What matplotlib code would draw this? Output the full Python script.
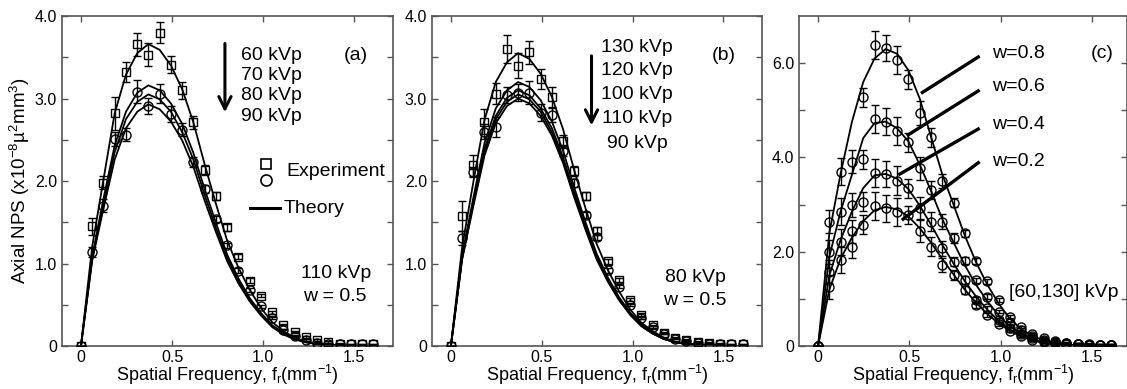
import numpy as np
import matplotlib
matplotlib.use("Agg")
import matplotlib.pyplot as plt
from matplotlib.ticker import FixedLocator, MultipleLocator

plt.rcParams['font.family'] = ['Liberation Sans', 'DejaVu Sans']
plt.rcParams['mathtext.default'] = 'regular'

# spatial frequency grid (mm^-1)
freq = [0.0, 0.062, 0.123, 0.185, 0.247, 0.309, 0.370, 0.432, 0.494, 0.556,
        0.617, 0.679, 0.741, 0.802, 0.864, 0.926, 0.988, 1.049, 1.111, 1.173,
        1.235, 1.296, 1.358, 1.420, 1.481, 1.543, 1.605]

# ---- panel (a): w = 0.5, various kVp ----
a_theory_60 = [0, 1.21, 2.01, 2.82, 3.29, 3.55, 3.66, 3.59, 3.40, 3.11, 2.71, 2.20, 1.72, 1.28,
               0.95, 0.68, 0.46, 0.29, 0.18, 0.10, 0.05, 0.03, 0.015, 0.007, 0.004, 0, 0]
a_theory_70 = [0, 1.08, 1.78, 2.43, 2.84, 3.07, 3.16, 3.10, 2.94, 2.69, 2.34, 1.90, 1.49, 1.11,
               0.82, 0.58, 0.40, 0.25, 0.16, 0.09, 0.05, 0.025, 0.013, 0.006, 0.003, 0, 0]
a_theory_80 = [0, 1.06, 1.72, 2.35, 2.75, 2.96, 3.05, 2.99, 2.84, 2.59, 2.26, 1.83, 1.43, 1.07,
               0.79, 0.56, 0.38, 0.24, 0.15, 0.085, 0.046, 0.024, 0.012, 0.006, 0.003, 0, 0]
a_theory_90 = [0, 1.04, 1.66, 2.26, 2.64, 2.84, 2.93, 2.87, 2.72, 2.49, 2.17, 1.76, 1.38, 1.03,
               0.76, 0.54, 0.37, 0.23, 0.14, 0.08, 0.044, 0.023, 0.012, 0.006, 0.003, 0, 0]
a_exp_sq = [0, 1.45, 1.98, 2.82, 3.32, 3.66, 3.53, 3.80, 3.41, 3.10, 2.71, 2.13, 1.82, 1.44,
            1.08, 0.79, 0.61, 0.41, 0.26, 0.17, 0.11, 0.07, 0.05, 0.03, 0.02, 0.02, 0.02]
a_err_sq = [0, 0.10, 0.08, 0.20, 0.12, 0.14, 0.14, 0.13, 0.10, 0.10, 0.08, 0.06, 0.05, 0.04,
            0.03, 0.03, 0.02, 0.02, 0.01, 0.01, 0.01, 0.01, 0.01, 0.01, 0.01, 0.01, 0.01]
a_exp_ci = [0, 1.14, 1.70, 2.51, 2.56, 3.08, 2.91, 3.06, 2.81, 2.62, 2.23, 1.90, 1.54, 1.22,
            0.91, 0.68, 0.48, 0.34, 0.20, 0.12, 0.07, 0.04, 0.03, 0.02, 0.02, 0.02, 0.02]
a_err_ci = [0, 0.06, 0.08, 0.08, 0.08, 0.14, 0.10, 0.12, 0.10, 0.08, 0.06, 0.05, 0.04, 0.03,
            0.03, 0.02, 0.02, 0.01, 0.01, 0.01, 0.01, 0.01, 0.01, 0.01, 0.01, 0.01, 0.01]
a_labels = ['60 kVp', '70 kVp', '80 kVp', '90 kVp']

# ---- panel (b): w = 0.5, various kVp ----
b_theory_130 = [0, 1.20, 1.98, 2.74, 3.20, 3.44, 3.55, 3.48, 3.30, 3.02, 2.63, 2.13, 1.67, 1.24,
                0.92, 0.66, 0.44, 0.28, 0.18, 0.10, 0.05, 0.028, 0.014, 0.007, 0.004, 0, 0]
b_theory_120 = [0, 1.10, 1.79, 2.46, 2.88, 3.10, 3.20, 3.14, 2.98, 2.72, 2.37, 1.92, 1.50, 1.12,
                0.83, 0.59, 0.40, 0.26, 0.16, 0.09, 0.048, 0.026, 0.013, 0.006, 0.003, 0, 0]
b_theory_100 = [0, 1.07, 1.74, 2.39, 2.79, 3.01, 3.10, 3.04, 2.88, 2.64, 2.29, 1.86, 1.46, 1.09,
                0.81, 0.57, 0.39, 0.25, 0.155, 0.087, 0.047, 0.025, 0.012, 0.006, 0.003, 0, 0]
b_theory_110 = [0, 1.06, 1.72, 2.35, 2.75, 2.96, 3.05, 2.99, 2.84, 2.59, 2.26, 1.83, 1.43, 1.07,
                0.79, 0.56, 0.38, 0.24, 0.15, 0.085, 0.046, 0.024, 0.012, 0.006, 0.003, 0, 0]
b_theory_90 = [0, 1.05, 1.69, 2.31, 2.70, 2.91, 3.00, 2.94, 2.79, 2.55, 2.22, 1.80, 1.41, 1.05,
               0.78, 0.555, 0.375, 0.24, 0.15, 0.084, 0.045, 0.024, 0.012, 0.006, 0.003, 0, 0]
b_exp_sq = [0, 1.58, 2.19, 2.72, 3.06, 3.60, 3.40, 3.56, 3.24, 3.02, 2.48, 2.12, 1.82, 1.40,
            1.03, 0.80, 0.56, 0.38, 0.25, 0.16, 0.10, 0.07, 0.05, 0.04, 0.03, 0.02, 0.02]
b_err_sq = [0, 0.18, 0.13, 0.15, 0.13, 0.17, 0.15, 0.14, 0.12, 0.12, 0.08, 0.06, 0.05, 0.04,
            0.03, 0.03, 0.02, 0.02, 0.01, 0.01, 0.01, 0.01, 0.01, 0.01, 0.01, 0.01, 0.01]
b_exp_ci = [0, 1.31, 2.11, 2.60, 2.65, 3.04, 3.07, 3.07, 2.83, 2.80, 2.36, 1.98, 1.59, 1.32,
            0.92, 0.72, 0.50, 0.34, 0.23, 0.15, 0.09, 0.06, 0.04, 0.03, 0.02, 0.02, 0.02]
b_err_ci = [0, 0.08, 0.06, 0.09, 0.12, 0.10, 0.10, 0.14, 0.10, 0.08, 0.06, 0.05, 0.04, 0.03,
            0.03, 0.02, 0.02, 0.01, 0.01, 0.01, 0.01, 0.01, 0.01, 0.01, 0.01, 0.01, 0.01]
b_labels = ['130 kVp', '120 kVp', '100 kVp', '110 kVp', '90 kVp']

# ---- panel (c): [60,130] kVp, various w ----
c_w = ['w=0.8', 'w=0.6', 'w=0.4', 'w=0.2']
c_theory_08 = [0, 2.40, 3.65, 4.75, 5.60, 6.10, 6.30, 6.20, 5.85, 5.25, 4.45, 3.65, 3.00, 2.35,
               1.78, 1.30, 0.90, 0.58, 0.36, 0.21, 0.12, 0.06, 0.03, 0.015, 0.007, 0, 0]
c_theory_06 = [0, 1.90, 2.85, 3.63, 4.41, 4.73, 4.76, 4.62, 4.34, 3.85, 3.30, 2.70, 2.20, 1.72,
               1.30, 0.95, 0.65, 0.42, 0.26, 0.15, 0.08, 0.04, 0.02, 0.01, 0.005, 0, 0]
c_theory_04 = [0, 1.50, 2.25, 2.85, 3.35, 3.62, 3.65, 3.55, 3.33, 2.98, 2.58, 2.15, 1.75, 1.38,
               1.05, 0.77, 0.53, 0.35, 0.22, 0.13, 0.07, 0.035, 0.017, 0.008, 0.004, 0, 0]
c_theory_02 = [0, 1.20, 1.85, 2.30, 2.65, 2.88, 2.95, 2.90, 2.75, 2.50, 2.20, 1.85, 1.52, 1.20,
               0.92, 0.68, 0.48, 0.32, 0.20, 0.12, 0.065, 0.033, 0.016, 0.008, 0.004, 0, 0]
c_exp_08 = [0, 2.64, 3.70, 3.91, 5.28, 6.39, 6.32, 6.06, 5.66, 4.94, 4.43, 3.50, 3.04, 2.39,
            1.80, 1.37, 0.98, 0.62, 0.41, 0.25, 0.16, 0.10, 0.07, 0.05, 0.04, 0.03, 0.03]
c_exp_06 = [0, 2.00, 2.85, 2.99, 3.96, 4.81, 4.76, 4.56, 4.32, 3.77, 3.31, 2.64, 2.29, 1.81,
            1.39, 1.05, 0.73, 0.48, 0.33, 0.21, 0.13, 0.08, 0.06, 0.04, 0.03, 0.03, 0.03]
c_exp_04 = [0, 1.58, 2.21, 2.43, 3.06, 3.67, 3.65, 3.51, 3.35, 2.92, 2.64, 2.07, 1.79, 1.40,
            0.98, 0.80, 0.55, 0.38, 0.25, 0.16, 0.10, 0.07, 0.05, 0.04, 0.03, 0.03, 0.03]
c_exp_02 = [0, 1.25, 1.83, 2.11, 2.57, 2.97, 2.92, 2.85, 2.78, 2.45, 2.11, 1.72, 1.51, 1.19,
            0.87, 0.66, 0.46, 0.32, 0.21, 0.13, 0.09, 0.06, 0.05, 0.04, 0.03, 0.03, 0.03]
c_err = [0, 0.25, 0.28, 0.25, 0.20, 0.30, 0.28, 0.30, 0.20, 0.25, 0.20, 0.15, 0.10, 0.08,
         0.06, 0.05, 0.04, 0.03, 0.02, 0.02, 0.02, 0.02, 0.02, 0.02, 0.02, 0.02, 0.02]

TXT = 14
spine_col = '#555555'


def style_axes(ax, ymax, ymajor, yminor):
    ax.set_xlim(-0.104, 1.712)
    ax.set_ylim(0, ymax)
    ax.xaxis.set_major_locator(FixedLocator([0, 0.5, 1.0, 1.5]))
    ax.set_xticklabels(['0', '0.5', '1.0', '1.5'])
    ax.yaxis.set_major_locator(FixedLocator(ymajor))
    ax.set_yticklabels(['0'] + ['%.1f' % v for v in ymajor[1:]])
    ax.yaxis.set_minor_locator(FixedLocator(yminor))
    ax.tick_params(which='both', direction='in', top=True, right=True, colors=spine_col,
                   labelcolor='black', labelsize=11.5, length=4, width=1)
    ax.tick_params(axis='x', pad=3)
    for s in ax.spines.values():
        s.set_color(spine_col)
        s.set_linewidth(1.2)
    ax.set_xlabel('Spatial Frequency, f$_r$(mm$^{-1}$)', fontsize=13, labelpad=-1.5)


def exp_points(ax, y, e, marker, ms):
    ax.errorbar(freq, y, yerr=e, fmt=marker, ms=ms, mfc='none', mec='k', mew=1.0,
                ecolor='k', elinewidth=1.0, capsize=3, capthick=1.0, zorder=3)


fig = plt.figure(figsize=(11.27, 3.89), dpi=100)
axa = fig.add_axes([0.0550, 0.1105, 0.2937, 0.8483])
axb = fig.add_axes([0.3833, 0.1105, 0.2928, 0.8483])
axc = fig.add_axes([0.7090, 0.1105, 0.2910, 0.8483])

# (a)
for t in [a_theory_60, a_theory_70, a_theory_80, a_theory_90]:
    axa.plot(freq, t, color='k', lw=1.3, zorder=2)
exp_points(axa, a_exp_sq, a_err_sq, 's', 5.5)
exp_points(axa, a_exp_ci, a_err_ci, 'o', 6.5)
style_axes(axa, 4.0, [0, 1.0, 2.0, 3.0, 4.0], [0.5, 1.5, 2.5, 3.5])
axa.set_ylabel('Axial NPS (x10$^{-8}$\u00b5$^{2}$mm$^{3}$)', fontsize=13.5, labelpad=2)
for lab, yy in zip(a_labels, [3.47, 3.22, 2.98, 2.73]):
    axa.text(1.046, yy, lab, fontsize=TXT, ha='center', va='baseline')
axa.annotate('', xy=(0.79, 2.80), xytext=(0.79, 3.70),
             arrowprops=dict(arrowstyle='->', lw=2.2, color='k', mutation_scale=22))
axa.text(1.51, 3.47, '(a)', fontsize=TXT, ha='center', va='baseline')
axa.plot([1.015], [2.21], 's', ms=7, mfc='none', mec='k', mew=1.2)
axa.plot([1.015], [2.01], 'o', ms=8, mfc='none', mec='k', mew=1.2)
axa.text(1.126, 2.11, 'Experiment', fontsize=TXT, ha='left', va='center')
axa.plot([0.93, 1.09], [1.67, 1.67], color='k', lw=2.2)
axa.text(1.11, 1.67, 'Theory', fontsize=TXT, ha='left', va='center')
axa.text(1.40, 0.82, '110 kVp', fontsize=TXT, ha='center', va='baseline')
axa.text(1.39, 0.54, 'w = 0.5', fontsize=TXT, ha='center', va='baseline')

# (b)
for t in [b_theory_130, b_theory_120, b_theory_100, b_theory_110, b_theory_90]:
    axb.plot(freq, t, color='k', lw=1.3, zorder=2)
exp_points(axb, b_exp_sq, b_err_sq, 's', 5.5)
exp_points(axb, b_exp_ci, b_err_ci, 'o', 6.5)
style_axes(axb, 4.0, [0, 1.0, 2.0, 3.0, 4.0], [0.5, 1.5, 2.5, 3.5])
for lab, yy in zip(b_labels, [3.57, 3.29, 3.00, 2.70, 2.40]):
    axb.text(1.025, yy, lab, fontsize=TXT, ha='center', va='baseline')
axb.annotate('', xy=(0.774, 2.64), xytext=(0.774, 3.55),
             arrowprops=dict(arrowstyle='->', lw=2.2, color='k', mutation_scale=22))
axb.text(1.50, 3.47, '(b)', fontsize=TXT, ha='center', va='baseline')
axb.text(1.344, 0.78, '80 kVp', fontsize=TXT, ha='center', va='baseline')
axb.text(1.344, 0.50, 'w = 0.5', fontsize=TXT, ha='center', va='baseline')

# (c)
for t in [c_theory_08, c_theory_06, c_theory_04, c_theory_02]:
    axc.plot(freq, t, color='k', lw=1.3, zorder=2)
for y in [c_exp_08, c_exp_06, c_exp_04, c_exp_02]:
    exp_points(axc, y, c_err, 'o', 6.5)
style_axes(axc, 7.0, [0, 2.0, 4.0, 6.0], [1.0, 3.0, 5.0])
axc.set_xlim(-0.104, 1.69)
pointer_starts = [(0.563, 5.36), (0.485, 4.46), (0.439, 3.63), (0.458, 2.67)]
pointer_ends = [(0.884, 6.15), (0.884, 5.43), (0.884, 4.62), (0.884, 3.91)]
label_y = [6.11, 5.40, 4.60, 3.82]
for lab, p0, p1, yy in zip(c_w, pointer_starts, pointer_ends, label_y):
    axc.plot([p0[0], p1[0]], [p0[1], p1[1]], color='k', lw=2.4, solid_capstyle='butt')
    axc.text(0.951, yy, lab, fontsize=TXT, ha='left', va='baseline')
axc.text(1.553, 6.11, '(c)', fontsize=TXT, ha='center', va='baseline')
axc.text(1.343, 1.05, '[60,130] kVp', fontsize=TXT, ha='center', va='baseline')

fig.savefig('out.png', dpi=100)
